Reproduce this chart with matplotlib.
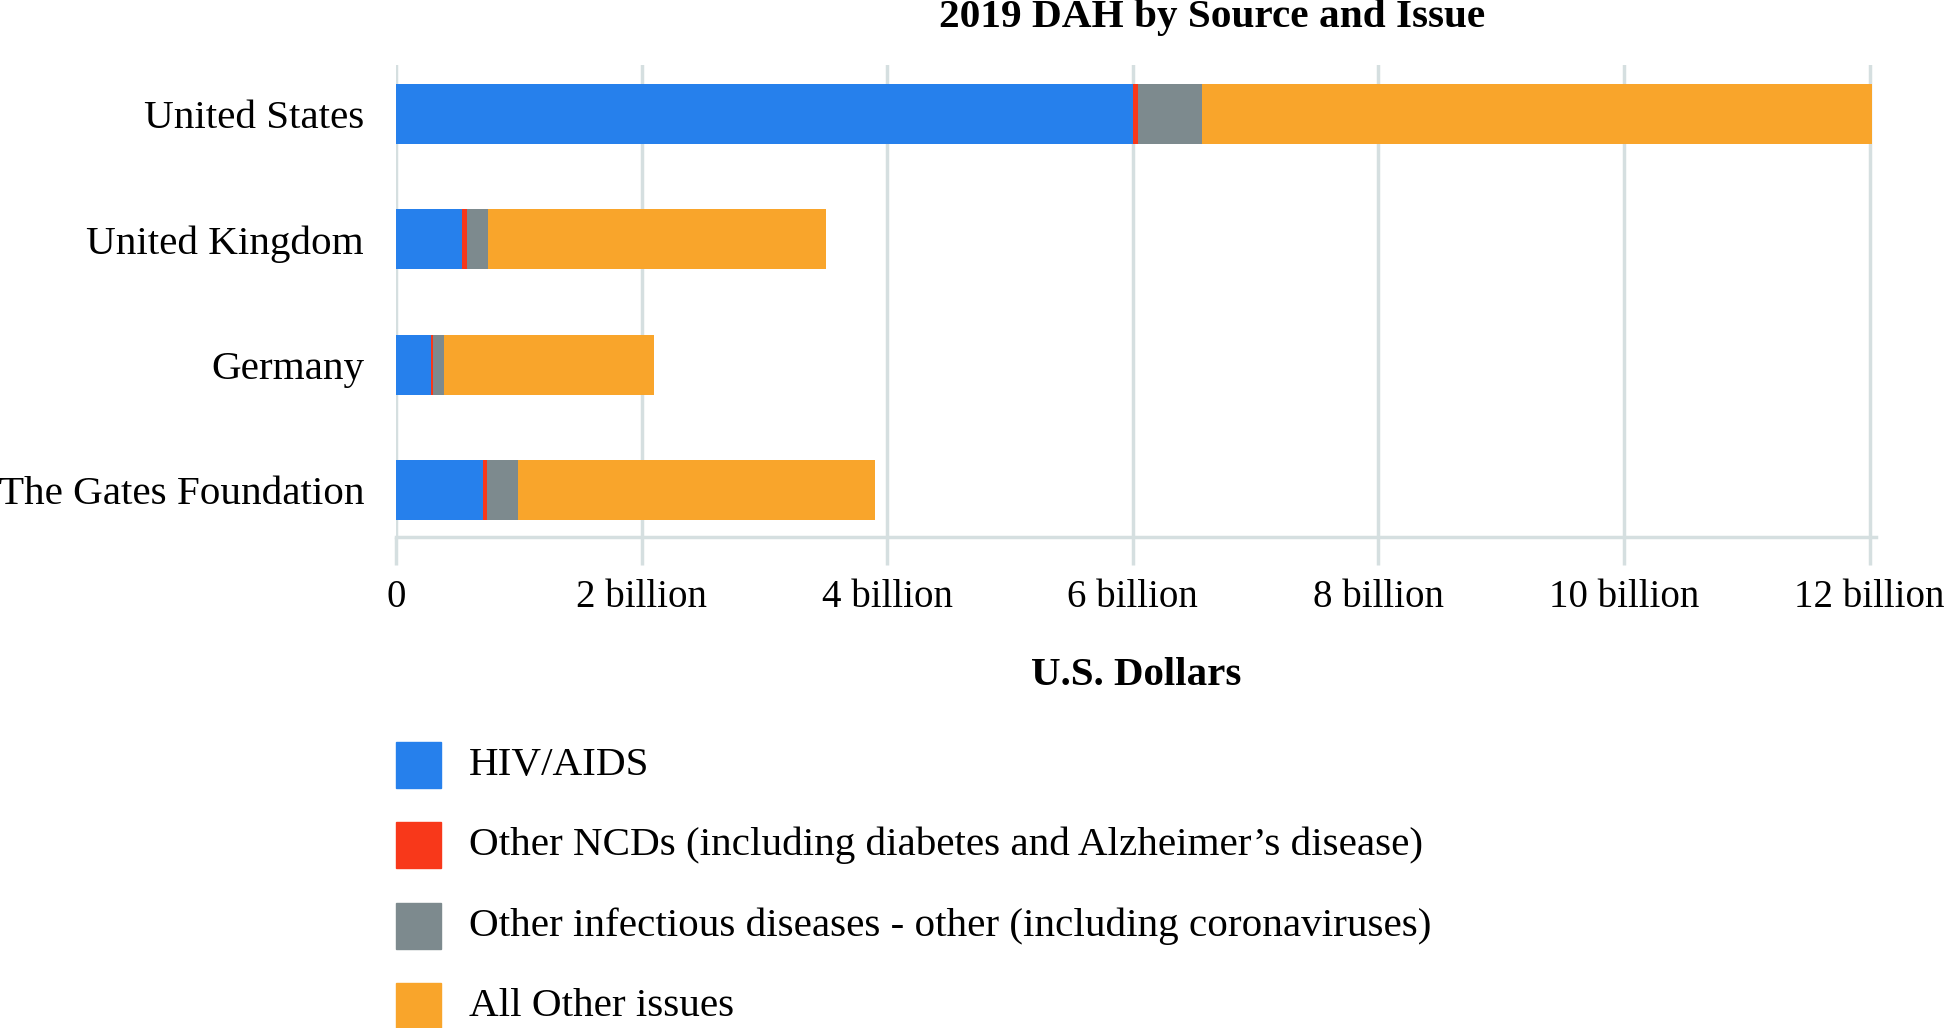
import matplotlib.pyplot as plt
from matplotlib.patches import Rectangle
from matplotlib.ticker import FuncFormatter

plt.rcParams['font.family'] = ['Liberation Serif', 'DejaVu Serif']

# values in billions of US dollars
sources = ["United States", "United Kingdom", "Germany", "The Gates Foundation"]
issues = ["HIV/AIDS",
          "Other NCDs (including diabetes and Alzheimer\u2019s disease)",
          "Other infectious diseases - other (including coronaviruses)",
          "All Other issues"]
hiv = [6.00, 0.54, 0.285, 0.71]
ncd = [0.04, 0.04, 0.015, 0.03]
infectious = [0.52, 0.17, 0.09, 0.25]
other = [5.46, 2.75, 1.71, 2.91]
ticks = [0, 2, 4, 6, 8, 10, 12]

colors = ["#2680EC", "#F8381A", "#7D8A8E", "#F9A52B"]
grid_c = "#D5DFE0"

W, H = 1946, 1028
fig = plt.figure(figsize=(W / 100, H / 100), dpi=100)

# axes in pixel coords: x 0 -> 396px, 122.8 px per billion
x0, px_per = 396, 122.8
xmax = 12.05
top, bottom = 65, 537
ax = fig.add_axes([x0 / W, 1 - bottom / H, xmax * px_per / W, (bottom - top) / H])

series = [hiv, ncd, infectious, other]
ypos = list(range(len(sources)))
left = [0] * len(sources)
for vals, c, lab in zip(series, colors, issues):
    ax.barh(ypos, vals, left=left, height=0.48, color=c, label=lab, zorder=3)
    left = [l + v for l, v in zip(left, vals)]

ax.set_xlim(0, xmax)
ax.set_ylim(3.375, -0.39)
ax.set_yticks(ypos)
ax.set_yticklabels(sources, fontsize=29.6)
ax.tick_params(axis='y', length=0, pad=23)
ax.set_xticks(ticks)
ax.xaxis.set_major_formatter(FuncFormatter(lambda v, p: "0" if v == 0 else f"{int(v)} billion"))
ax.tick_params(axis='x', length=20, width=2.5, color=grid_c, labelsize=28, pad=10)
ax.grid(axis='x', color=grid_c, linewidth=2.5, zorder=0)
for s in ['top', 'right', 'left']:
    ax.spines[s].set_visible(False)
ax.spines['bottom'].set_color(grid_c)
ax.spines['bottom'].set_linewidth(2.5)
ax.set_xlabel("U.S. Dollars", fontsize=29.5, fontweight='bold', labelpad=30)

fig.text(1212 / W, 1 - 18 / H, "2019 DAH by Source and Issue", fontsize=29.7,
         fontweight='bold', ha='center', va='center')

# legend drawn manually
rows = [765, 845, 926, 1006]
for yc, c, lab in zip(rows, colors, issues):
    fig.patches.append(Rectangle((396 / W, 1 - (yc + 23) / H), 45 / W, 46 / H,
                                 transform=fig.transFigure, color=c))
    fig.text(469 / W, 1 - yc / H, lab, fontsize=29.6, ha='left', va='center')

fig.savefig("out.png", dpi=100)
